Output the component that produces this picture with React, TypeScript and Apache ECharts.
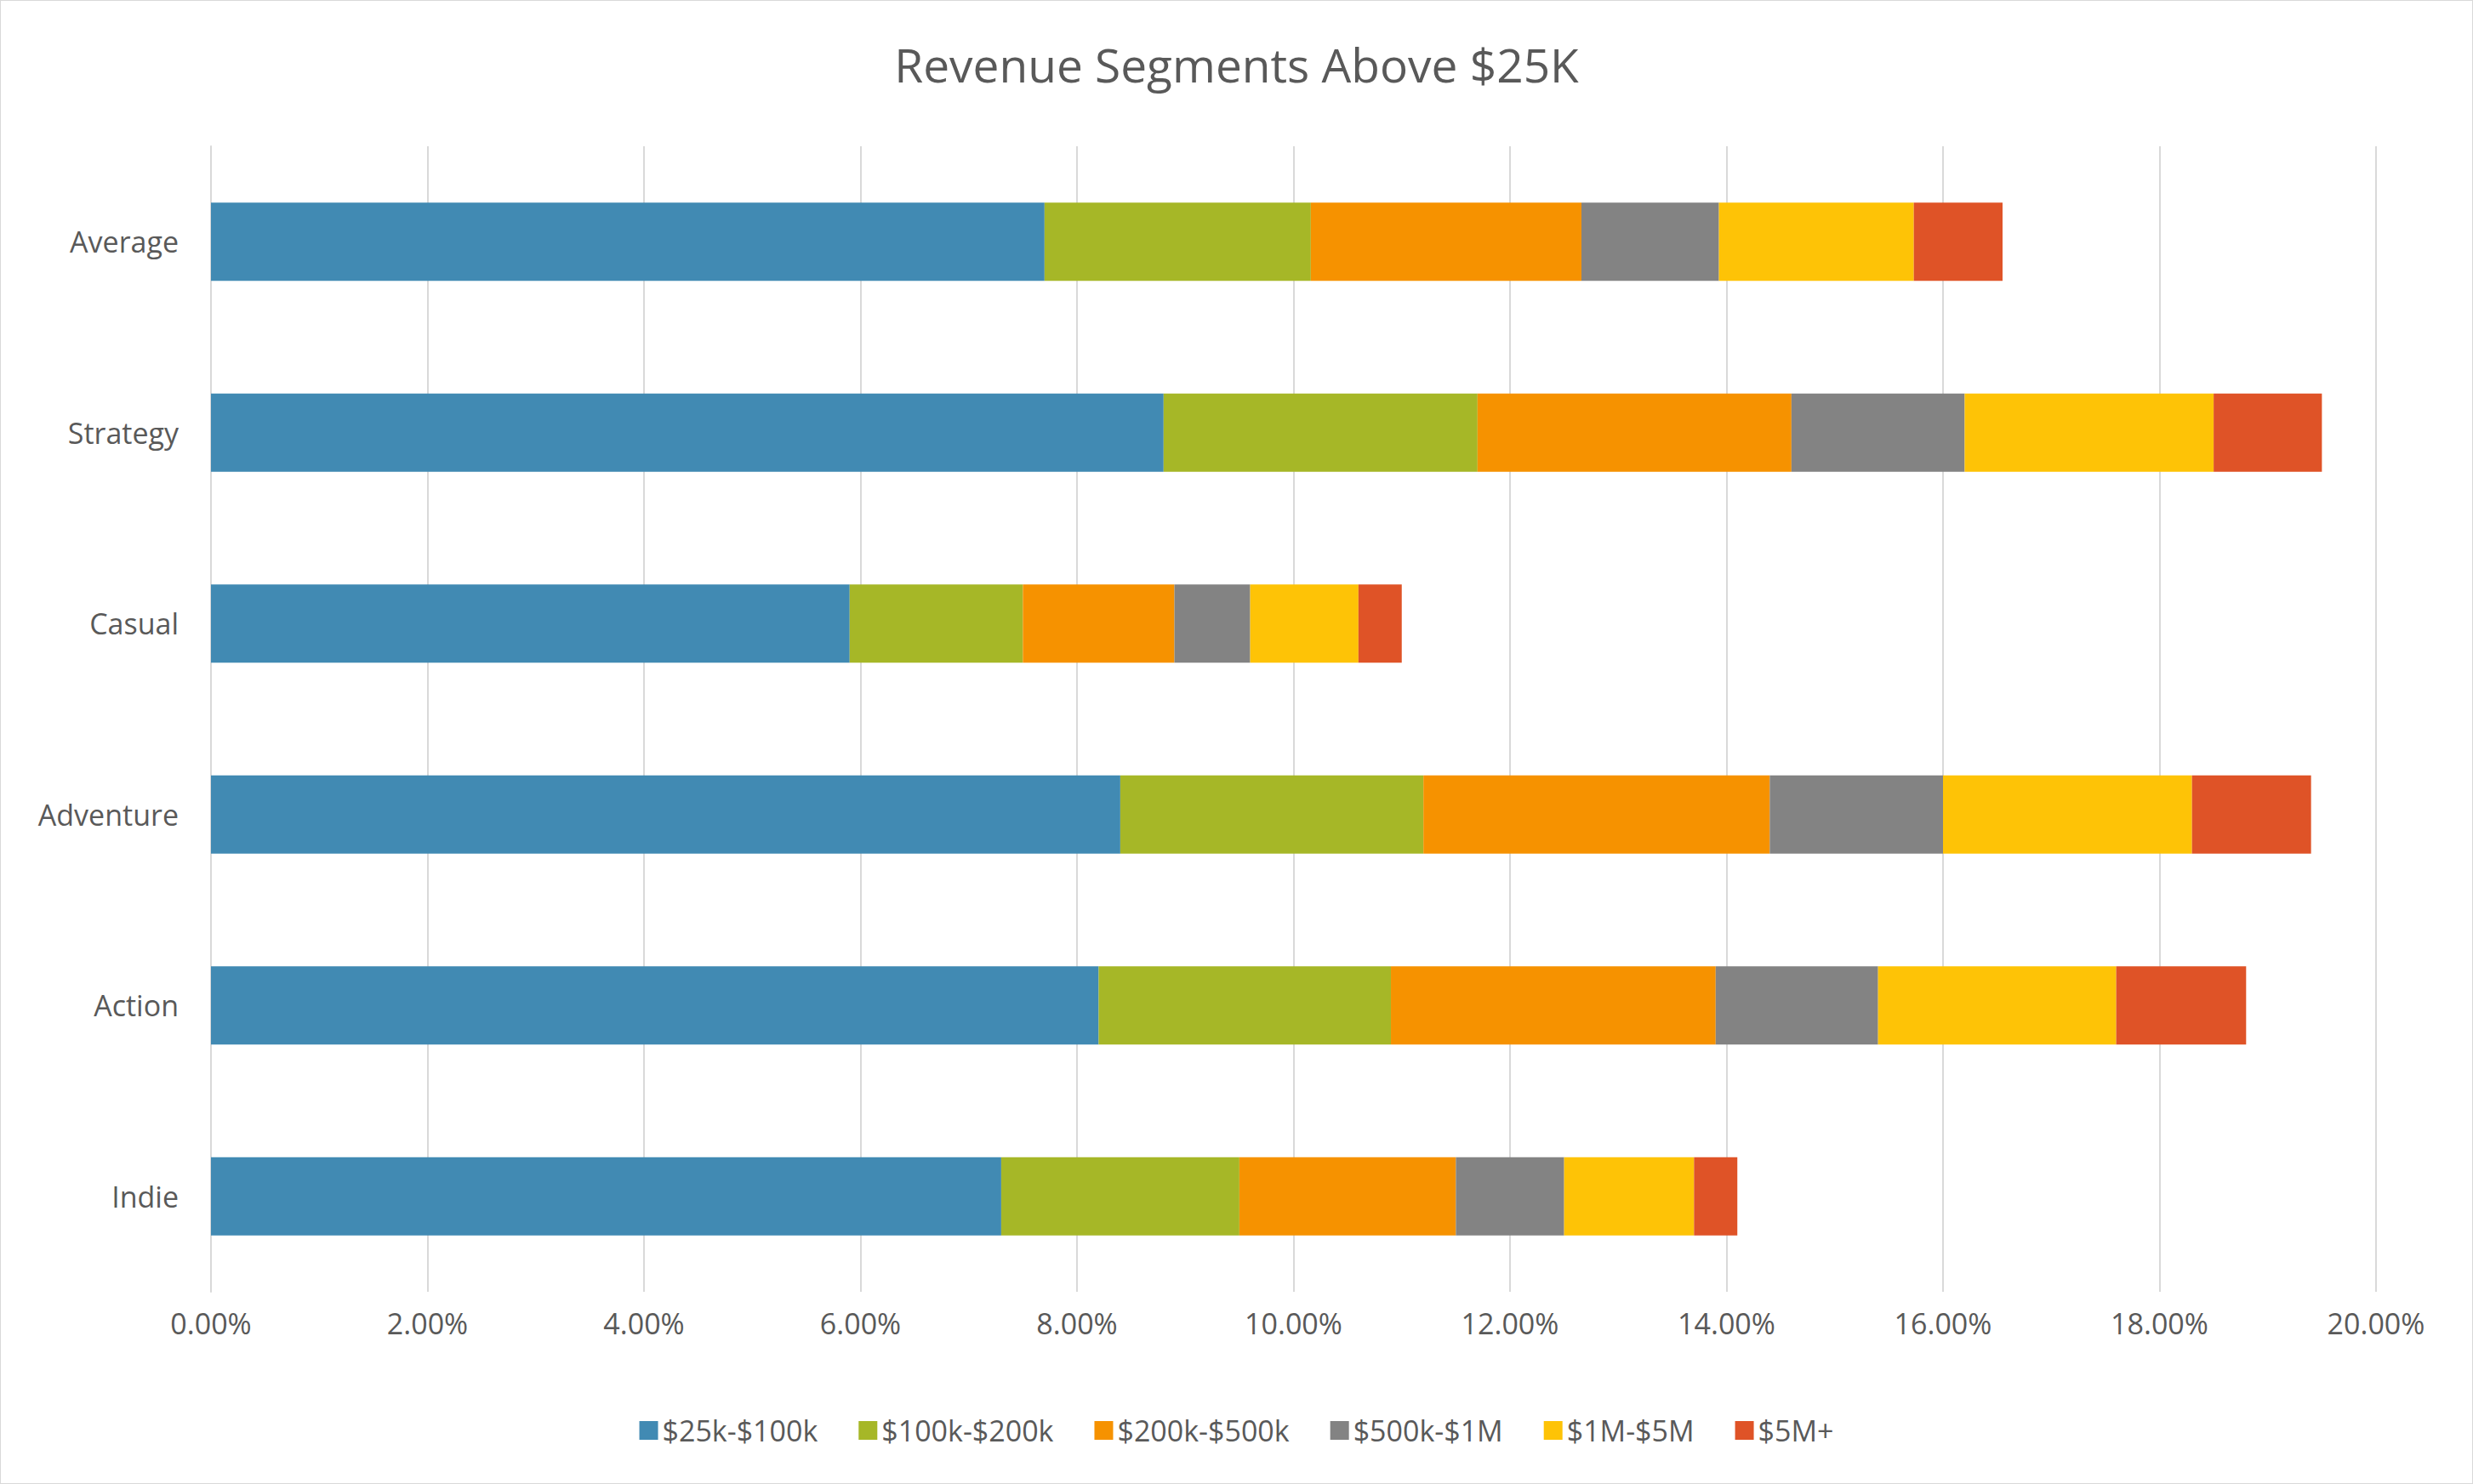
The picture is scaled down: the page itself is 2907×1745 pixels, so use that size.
import React, { useEffect, useRef } from "react";
import * as echarts from "echarts";

const categories = ["Indie", "Action", "Adventure", "Casual", "Strategy", "Average"];
const seriesNames = ["$25k-$100k", "$100k-$200k", "$200k-$500k", "$500k-$1M", "$1M-$5M", "$5M+"];
const s25k = [7.3, 8.2, 8.4, 5.9, 8.8, 7.7];
const s100k = [2.2, 2.7, 2.8, 1.6, 2.9, 2.46];
const s200k = [2.0, 3.0, 3.2, 1.4, 2.9, 2.5];
const s500k = [1.0, 1.5, 1.6, 0.7, 1.6, 1.27];
const s1m = [1.2, 2.2, 2.3, 1.0, 2.3, 1.8];
const s5m = [0.4, 1.2, 1.1, 0.4, 1.0, 0.82];
const colors = ["#418AB3", "#A6B727", "#F69200", "#838383", "#FEC306", "#DF5327"];

export default function App() {
  const ref = useRef<HTMLDivElement>(null);
  useEffect(() => {
    const chart = echarts.init(ref.current!, undefined, { renderer: "svg" });
    const all = [s25k, s100k, s200k, s500k, s1m, s5m];
    const font = "'Open Sans', Calibri, sans-serif";
    chart.setOption({
      animation: false,
      title: {
        text: "Revenue Segments Above $25K",
        left: "center",
        top: 42,
        textStyle: { fontSize: 55, fontWeight: "normal", color: "#595959", fontFamily: font },
      },
      legend: {
        bottom: 40,
        left: "center",
        itemWidth: 22,
        itemHeight: 22,
        itemGap: 48,
        icon: "rect",
        textStyle: { fontSize: 34, color: "#595959", fontFamily: font },
        data: seriesNames,
      },
      grid: { left: 247, right: 113, top: 171, bottom: 225 },
      xAxis: {
        type: "value",
        min: 0,
        max: 20,
        interval: 2,
        axisLabel: {
          formatter: (v: number) => v.toFixed(2) + "%",
          fontSize: 34,
          color: "#595959",
          fontFamily: font,
          margin: 20,
        },
        splitLine: { lineStyle: { color: "#D9D9D9", width: 2 } },
        axisLine: { show: false },
        axisTick: { show: false },
      },
      yAxis: {
        type: "category",
        data: categories,
        axisLabel: { fontSize: 34, color: "#595959", fontFamily: font, margin: 38 },
        axisLine: { show: true, lineStyle: { color: "#D9D9D9", width: 2 } },
        axisTick: { show: false },
      },
      series: seriesNames.map((n, i) => ({
        name: n,
        type: "bar",
        stack: "total",
        barWidth: 92,
        itemStyle: { color: colors[i] },
        data: all[i],
      })),
    });
    return () => chart.dispose();
  }, []);
  return (
    <div
      ref={ref}
      style={{
        position: "absolute",
        left: 0,
        top: 0,
        width: 2905,
        height: 1743,
        border: "1px solid #D9D9D9",
        background: "#fff",
      }}
    />
  );
}
